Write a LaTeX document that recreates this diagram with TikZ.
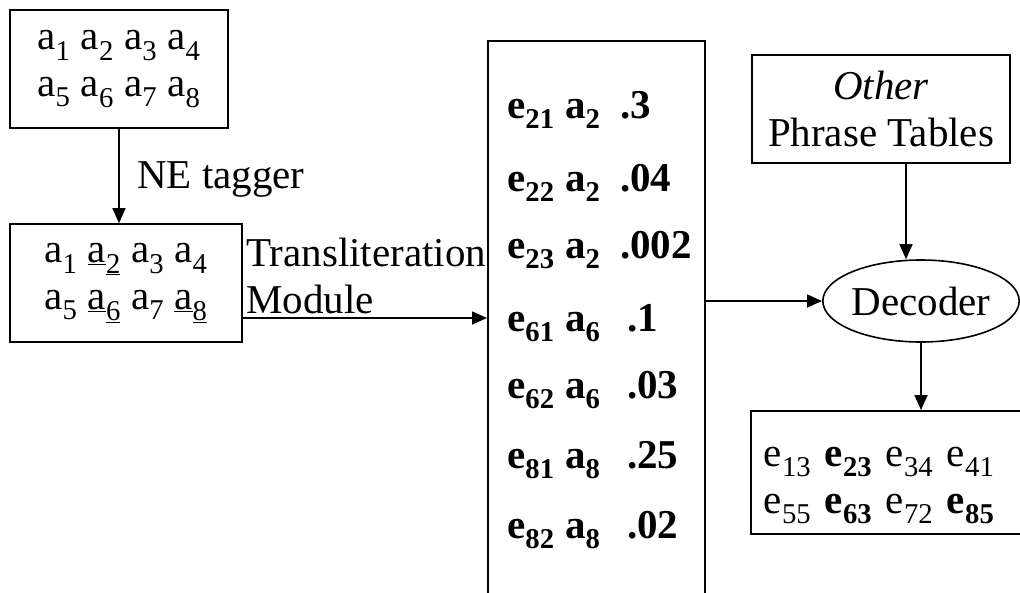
\documentclass[tikz,border=0pt]{standalone}
\usepackage{fontspec}
\setmainfont{Liberation Serif}
\usetikzlibrary{arrows.meta,shapes.geometric,calc}
\newcommand{\sbs}[1]{\textsubscript{#1}}
\begin{document}
\begin{tikzpicture}[x=1pt,y=-1pt,
  txt/.style={font=\fontsize{41}{47}\selectfont, inner sep=0pt},
  box/.style={txt, draw, line width=1.6pt, rectangle, align=center},
  arr/.style={line width=1.6pt, -{Triangle[length=15pt,width=13pt]}},
  rowtxt/.style={txt, font=\fontsize{41}{47}\selectfont\bfseries, anchor=base west}
]
\useasboundingbox (0,0) rectangle (1020,592);
\clip (0,0) rectangle (1020,592);

% input box
\node[box, minimum width=218pt, minimum height=118pt] (box1) at (119,69)
  {a\sbs{1} a\sbs{2} a\sbs{3} a\sbs{4}\\ a\sbs{5} a\sbs{6} a\sbs{7} a\sbs{8}};

% tagged box
\node[box, minimum width=232pt, minimum height=118pt] (box2) at (126,283)
  {a\sbs{1} \underline{a}\sbs{\underline{2}} a\sbs{3} a\sbs{4}\\ a\sbs{5} \underline{a}\sbs{\underline{6}} a\sbs{7} \underline{a}\sbs{\underline{8}}};

\node[txt, anchor=base west] (ne) at (137,188) {NE tagger};
\node[txt, anchor=south west, align=left] (tl) at (246,314) {Transliteration\\Module};

% transliteration table
\node[draw, line width=1.6pt, rectangle, minimum width=217pt, minimum height=600pt, anchor=north west, inner sep=0pt] (tbl) at (487,40) {};
\node[rowtxt] (r1) at (507,118) {\makebox[58pt][l]{e\sbs{21}}\makebox[55pt][l]{a\sbs{2}}.3};
\node[rowtxt] (r2) at (507,191) {\makebox[58pt][l]{e\sbs{22}}\makebox[55pt][l]{a\sbs{2}}.04};
\node[rowtxt] (r3) at (507,258) {\makebox[58pt][l]{e\sbs{23}}\makebox[55pt][l]{a\sbs{2}}.002};
\node[rowtxt] (r4) at (507,331) {\makebox[58pt][l]{e\sbs{61}}\makebox[62pt][l]{a\sbs{6}}.1};
\node[rowtxt] (r5) at (507,398) {\makebox[58pt][l]{e\sbs{62}}\makebox[62pt][l]{a\sbs{6}}.03};
\node[rowtxt] (r6) at (507,468) {\makebox[58pt][l]{e\sbs{81}}\makebox[62pt][l]{a\sbs{8}}.25};
\node[rowtxt] (r7) at (507,538) {\makebox[58pt][l]{e\sbs{82}}\makebox[62pt][l]{a\sbs{8}}.02};

% other phrase tables
\node[box, minimum width=258pt, minimum height=108pt] (other) at (881,109)
  {\textit{Other}\\Phrase Tables};

% decoder
\node[txt, draw, line width=1.6pt, ellipse, minimum width=188pt, minimum height=82pt] (dec) at (921,301) {Decoder};

% output box (its right edge lies beyond the picture)
\node[box, anchor=north west, text width=300pt, inner xsep=13pt, minimum height=123pt, align=left] (out) at (750,410)
  {\rule{0pt}{46pt}e\sbs{13} \textbf{e\sbs{23}} e\sbs{34} e\sbs{41}\\ e\sbs{55} \textbf{e\sbs{63}} e\sbs{72} \textbf{e\sbs{85}}};

% connectors
\draw[arr] (box1.south) -- (box1.south |- box2.north);
\draw[arr] ([yshift=-35pt]box2.east) -- ([yshift=-35pt]box2.east -| tbl.west);
\draw[arr] (tbl.east |- dec.west) -- (dec.west);
\draw[arr] ([xshift=25pt]other.south) -- ([xshift=25pt]other.south |- dec.north);
\draw[arr] (dec.south) -- (dec.south |- out.north);
\end{tikzpicture}
\end{document}
